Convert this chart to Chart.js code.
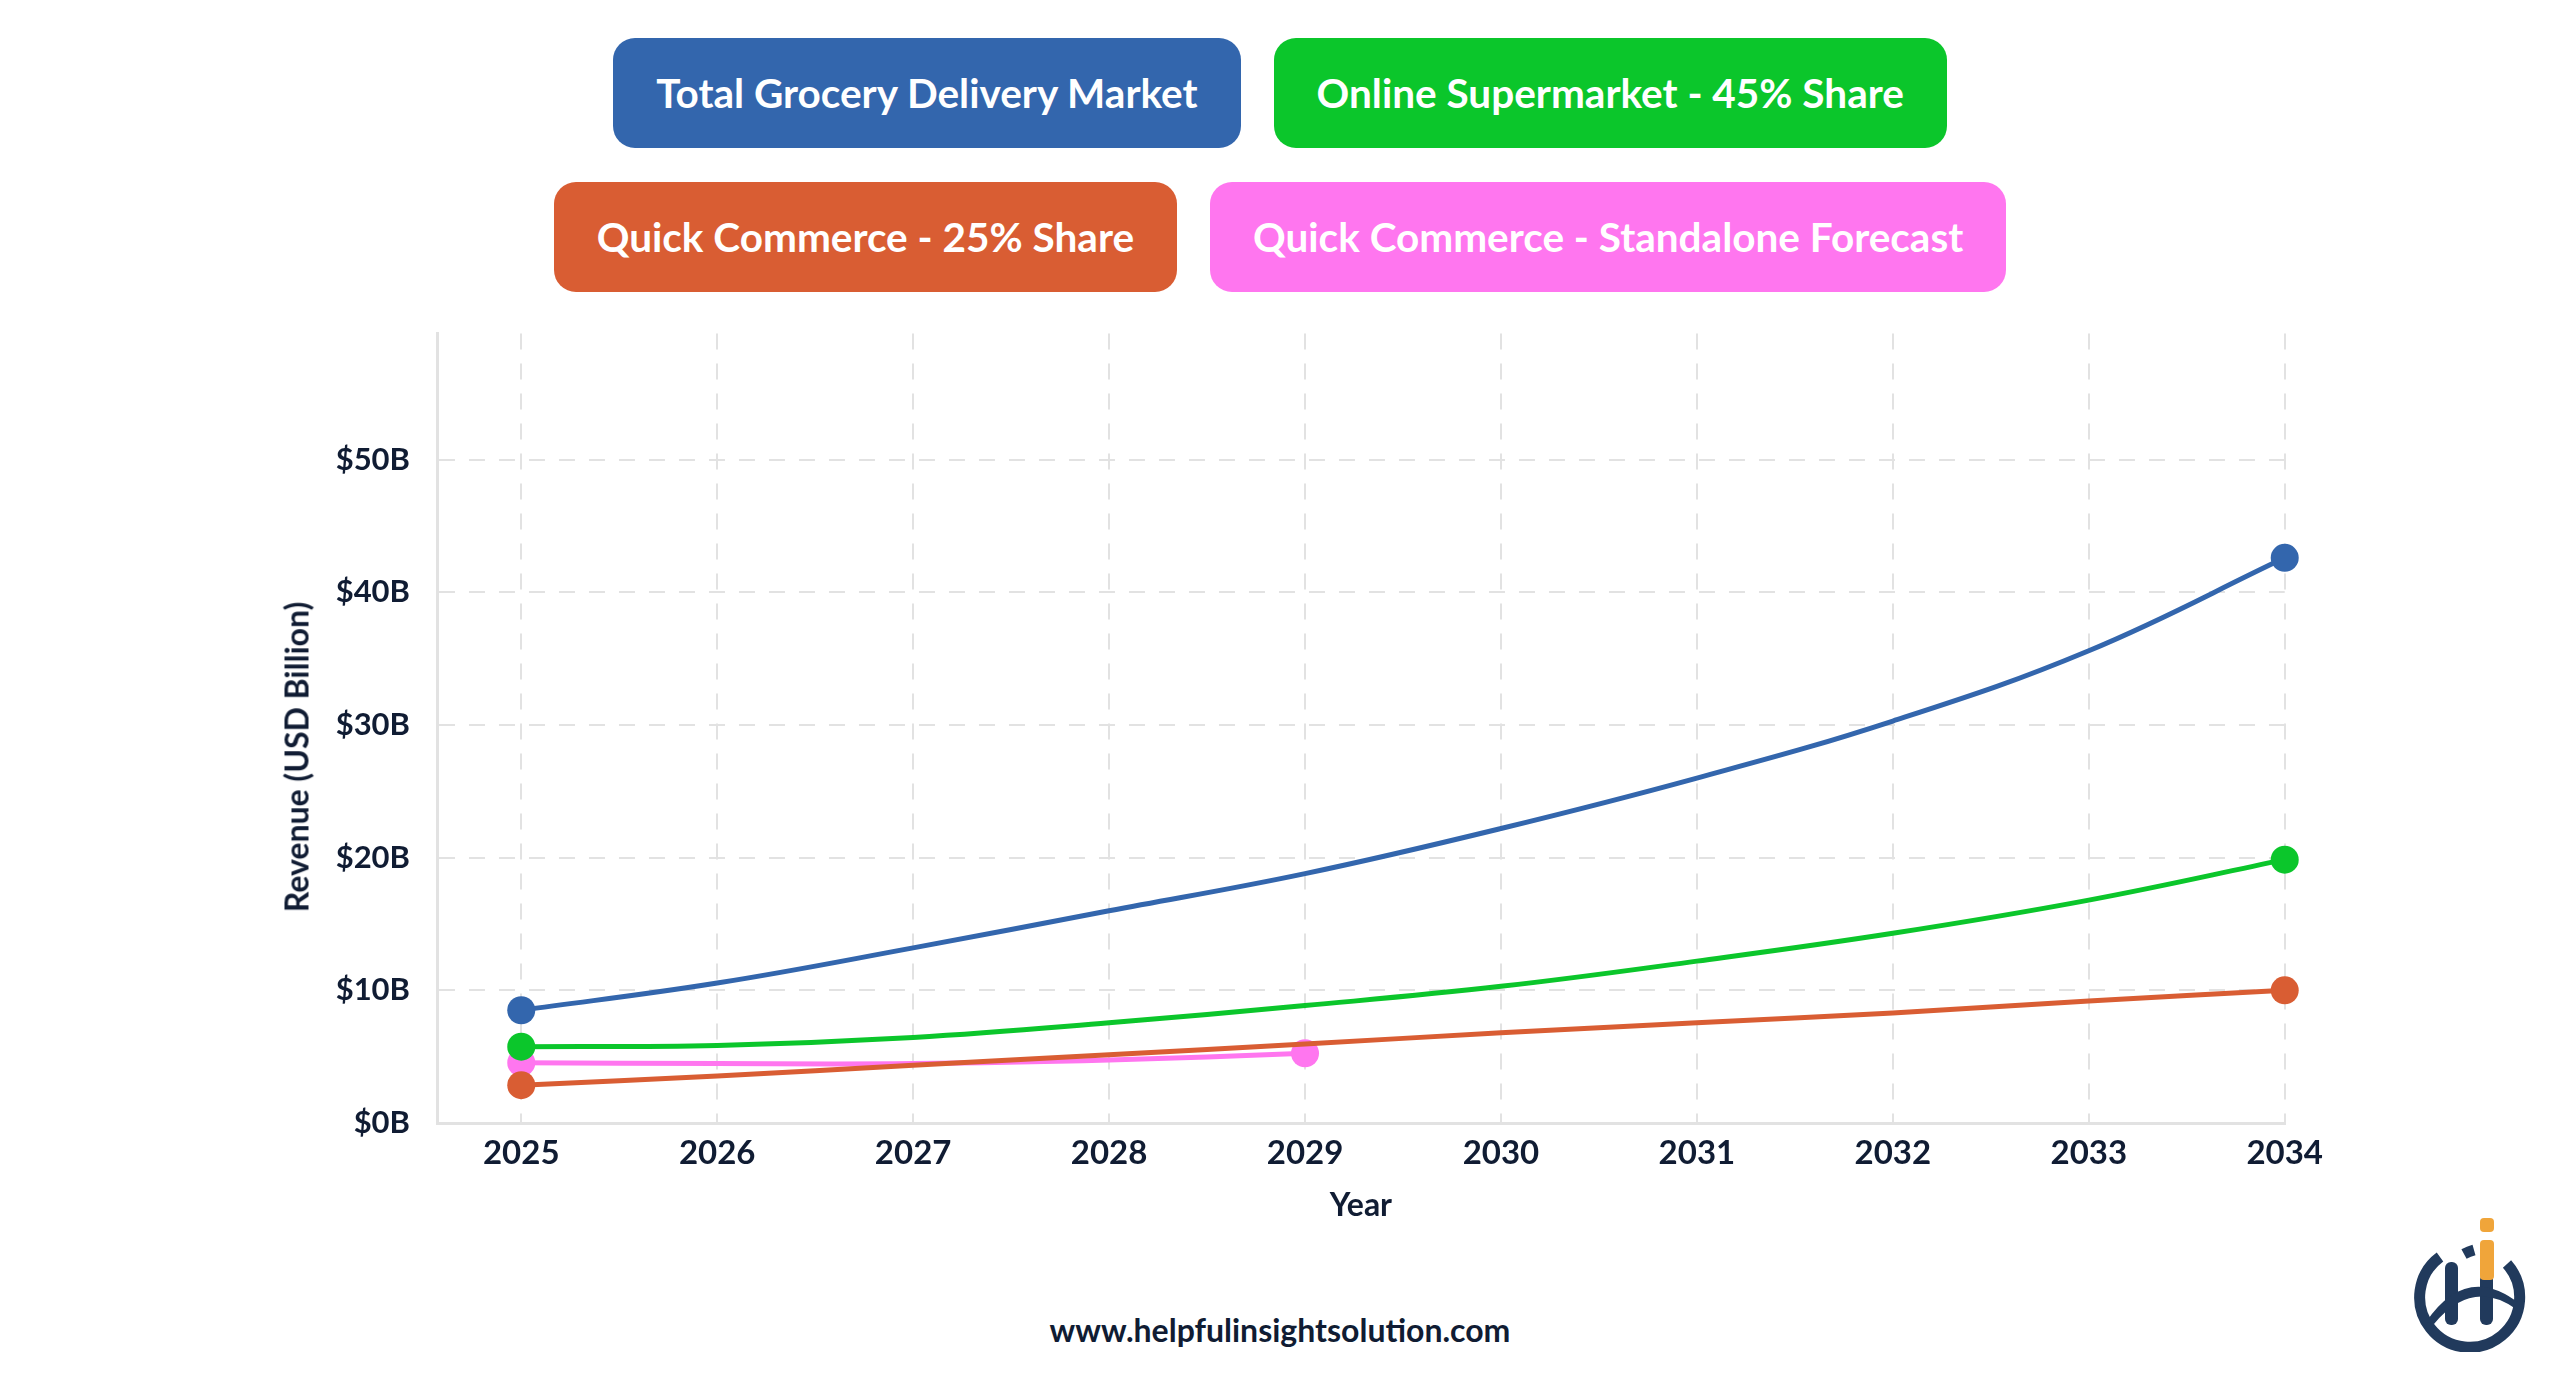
<!DOCTYPE html>
<html lang="en">
<head>
  <meta charset="UTF-8">
  <title>Grocery Delivery Market Forecast</title>
  <script src="https://cdn.jsdelivr.net/npm/chart.js"></script>
  <style>
    html, body {
      margin: 0;
      padding: 0;
      width: 2560px;
      height: 1385px;
      overflow: hidden;
      background: #ffffff;
      font-family: Lato, "Open Sans", sans-serif;
      color: #101c33;
    }

    .legend {
      position: absolute;
      top: 38px;
      left: 480px;
      width: 1600px;
      display: flex;
      flex-wrap: wrap;
      justify-content: center;
      gap: 34px 33px;
    }

    .legend-item {
      height: 110px;
      line-height: 110px;
      padding: 0 43px;
      border-radius: 22px;
      color: #ffffff;
      font-size: 40.5px;
      font-weight: 700;
      white-space: nowrap;
    }

    .chart-box {
      position: absolute;
      left: 250px;
      top: 288px;
      width: 2084px;
      height: 945px;
    }

    .y-title {
      position: absolute;
      left: 296px;
      top: 757px;
      transform: translate(-50%, -50%) rotate(-90deg);
      font-size: 32px;
      font-weight: 700;
      white-space: nowrap;
      color: #101c33;
    }

    .footer {
      position: absolute;
      top: 1310px;
      left: 0;
      width: 2560px;
      text-align: center;
      font-size: 32px;
      font-weight: 700;
      color: #101c33;
    }

    .logo {
      position: absolute;
      left: 2412px;
      top: 1212px;
      width: 120px;
      height: 140px;
    }
  </style>
</head>
<body>

<div class="legend" id="legend"></div>

<div class="chart-box">
  <canvas id="marketChart"></canvas>
</div>

<div class="y-title">Revenue (USD Billion)</div>

<div class="footer">www.helpfulinsightsolution.com</div>

<svg class="logo" viewBox="0 0 120 140">
  <path d="M 95 52 A 50 50 0 1 1 28 45" fill="none" stroke="#213a5c" stroke-width="11"/>
  <path d="M 52 42 A 50 50 0 0 1 62 38" fill="none" stroke="#213a5c" stroke-width="11"/>
  <rect x="33" y="50" width="13" height="63" rx="6" fill="#213a5c"/>
  <rect x="68" y="62" width="13" height="51" rx="6" fill="#213a5c"/>
  <path d="M 14 110 Q 55 50 108 92 L 104 97 Q 60 66 22 112 Z" fill="#213a5c"/>
  <rect x="68" y="28" width="14" height="40" rx="4" fill="#f0a53a"/>
  <rect x="68" y="6" width="14" height="14" rx="4" fill="#f0a53a"/>
</svg>

<script>
  const years = [2025, 2026, 2027, 2028, 2029, 2030, 2031, 2032, 2033, 2034];
  const totalMarket = [8.5, 10.55, 13.2, 16.0, 18.8, 22.2, 26.0, 30.3, 35.6, 42.6];
  const onlineSupermarket = [5.75, 5.85, 6.45, 7.55, 8.85, 10.3, 12.2, 14.3, 16.8, 19.85];
  const quickCommerce = [2.85, 3.55, 4.35, 5.15, 5.95, 6.8, 7.55, 8.3, 9.2, 10.0];
  const standaloneYears = [2025, 2026, 2027, 2028, 2029];
  const quickCommerceStandalone = [4.55, 4.48, 4.48, 4.75, 5.25];
  const yTicks = [0, 10, 20, 30, 40, 50];

  const textColor = '#101c33';
  const gridColor = '#e2e2e2';

  function toPoints(xs, ys) {
    return ys.map((v, i) => ({ x: xs[i], y: v }));
  }

  // only the first and last point get a dot
  function endDots(ctx) {
    const n = ctx.dataset.data.length;
    return (ctx.dataIndex === 0 || ctx.dataIndex === n - 1) ? 14 : 0;
  }

  const series = [
    { label: 'Total Grocery Delivery Market', color: '#3366ad', data: toPoints(years, totalMarket) },
    { label: 'Online Supermarket - 45% Share', color: '#0bc62b', data: toPoints(years, onlineSupermarket) },
    { label: 'Quick Commerce - 25% Share', color: '#d95d33', data: toPoints(years, quickCommerce) },
    { label: 'Quick Commerce - Standalone Forecast', color: '#ff76ef', data: toPoints(standaloneYears, quickCommerceStandalone) }
  ];

  const legend = document.getElementById('legend');
  series.forEach(s => {
    const item = document.createElement('div');
    item.className = 'legend-item';
    item.style.background = s.color;
    item.textContent = s.label;
    legend.appendChild(item);
  });

  new Chart(document.getElementById('marketChart'), {
    type: 'line',
    data: {
      datasets: series.map(s => ({
        label: s.label,
        data: s.data,
        borderColor: s.color,
        backgroundColor: s.color,
        pointBackgroundColor: s.color,
        pointBorderWidth: 0,
        pointRadius: endDots,
        borderWidth: 5,
        tension: 0.4,
        fill: false,
        clip: false
      }))
    },
    options: {
      responsive: true,
      maintainAspectRatio: false,
      animation: false,
      layout: {
        padding: { top: 0, right: 40, bottom: 0, left: 0 }
      },
      plugins: {
        legend: { display: false },
        tooltip: { enabled: false }
      },
      scales: {
        x: {
          type: 'linear',
          min: 2024.57,
          max: 2034,
          afterBuildTicks: scale => {
            scale.ticks = years.map(v => ({ value: v }));
          },
          afterFit: scale => { scale.height = 110; },
          grid: {
            color: gridColor,
            lineWidth: 2,
            drawTicks: false
          },
          border: { color: gridColor, width: 3, dash: [16, 14] },
          ticks: {
            padding: 11,
            color: textColor,
            font: { family: 'Lato', size: 33, weight: 'bold' },
            callback: v => String(v)
          },
          title: {
            display: true,
            text: 'Year',
            color: textColor,
            font: { family: 'Lato', size: 32, weight: 'bold' },
            padding: { top: 0, bottom: 8 }
          }
        },
        y: {
          min: 0,
          max: 59.5,
          afterBuildTicks: scale => {
            scale.ticks = yTicks.map(v => ({ value: v }));
          },
          afterFit: scale => { scale.width = 187; },
          grid: {
            color: gridColor,
            lineWidth: 2,
            drawTicks: false
          },
          border: { color: gridColor, width: 3, dash: [16, 14] },
          ticks: {
            padding: 27,
            color: textColor,
            font: { family: 'Lato', size: 31, weight: 'bold' },
            callback: v => '$' + v + 'B'
          },
          title: { display: false }
        }
      }
    }
  });
</script>

</body>
</html>
